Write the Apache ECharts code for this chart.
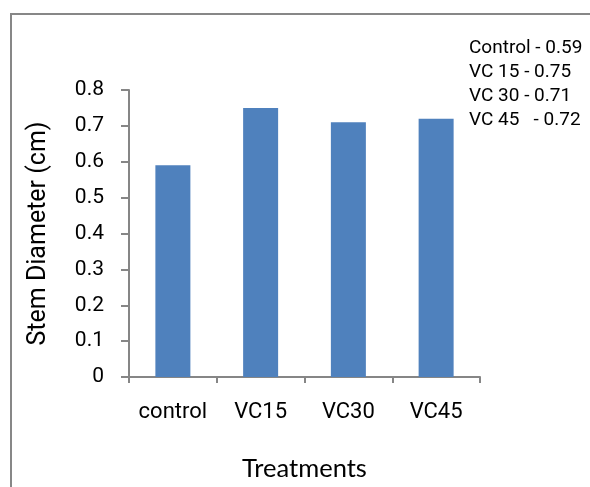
<!DOCTYPE html>
<html>
<head>
<meta charset="utf-8">
<script src="https://cdn.jsdelivr.net/npm/echarts@6/dist/echarts.min.js"></script>
<style>
  html, body { margin: 0; padding: 0; background: #fff; }
  #chart { width: 590px; height: 487px; }
</style>
</head>
<body>
<div id="chart"></div>
<script>
// Treatment categories and mean stem diameter (cm)
const categories = ['control', 'VC15', 'VC30', 'VC45'];
const stemDiameter = [0.59, 0.75, 0.71, 0.72];
// Names used in the summary note, paired with the values above
const noteLabels = ['Control', 'VC 15', 'VC 30', 'VC 45  '];
const yTicks = [0, 0.1, 0.2, 0.3, 0.4, 0.5, 0.6, 0.7, 0.8];

const noteText = noteLabels
  .map((name, i) => name + ' - ' + stemDiameter[i].toFixed(2))
  .join('\n');

const axisGray = '#868686';
const chart = echarts.init(document.getElementById('chart'));
chart.setOption({
  backgroundColor: '#ffffff',
  animation: false,
  grid: { left: 129, right: 110, top: 90, bottom: 109, containLabel: false },
  xAxis: {
    type: 'category',
    data: categories,
    name: 'Treatments',
    nameLocation: 'middle',
    nameGap: 79,
    nameTextStyle: { fontFamily: 'Lato', fontSize: 25.5, color: '#000' },
    axisLine: { lineStyle: { color: axisGray, width: 2 } },
    axisTick: { show: true, length: 6, lineStyle: { color: axisGray, width: 2 } },
    axisLabel: { interval: 0, fontFamily: 'Roboto', fontSize: 22, color: '#000', margin: 24 },
    splitLine: { show: false }
  },
  yAxis: {
    type: 'value',
    min: yTicks[0],
    max: yTicks[yTicks.length - 1],
    interval: 0.1,
    name: 'Stem Diameter (cm)',
    nameLocation: 'middle',
    nameGap: 78,
    nameTextStyle: { fontFamily: 'Roboto', fontSize: 25, color: '#000' },
    axisLine: { show: true, lineStyle: { color: axisGray, width: 2 } },
    axisTick: { show: true, length: 8, lineStyle: { color: axisGray, width: 2 } },
    axisLabel: {
      fontFamily: 'Roboto', fontSize: 21, color: '#000', margin: 25,
      formatter: v => {
        const t = yTicks.find(x => Math.abs(x - v) < 1e-9);
        return t === undefined ? '' : String(t);
      }
    },
    splitLine: { show: false }
  },
  series: [{
    type: 'bar',
    data: stemDiameter,
    barWidth: 35,
    itemStyle: { color: '#4F81BD' }
  }],
  graphic: [
    {
      type: 'rect',
      shape: { x: 11, y: 14, width: 800, height: 700 },
      style: { fill: 'none', stroke: '#878787', lineWidth: 2 },
      silent: true
    },
    {
      type: 'text',
      left: 469,
      top: 36,
      style: {
        text: noteText,
        fontFamily: 'Roboto',
        fontSize: 19,
        lineHeight: 24,
        fill: '#000'
      }
    }
  ]
});
</script>
</body>
</html>
